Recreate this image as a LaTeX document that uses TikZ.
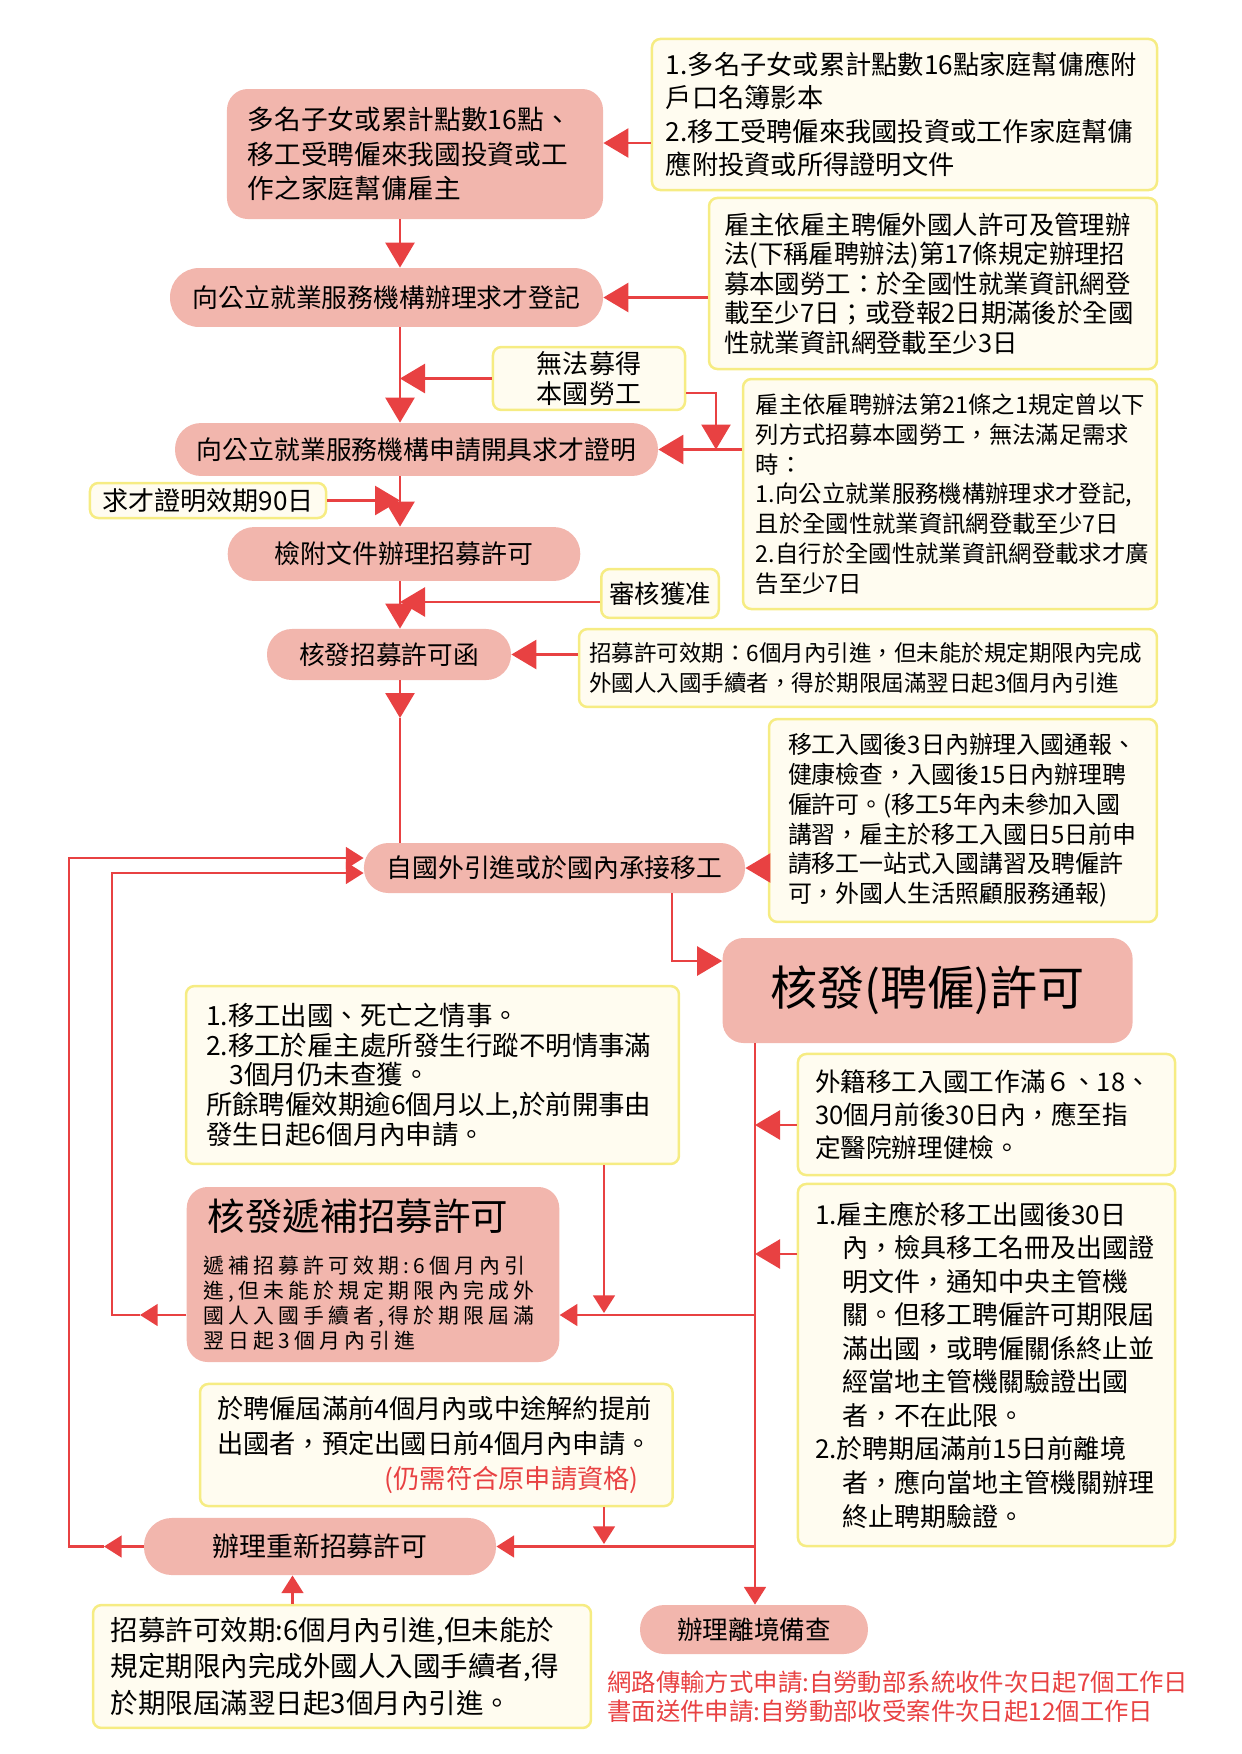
\documentclass[tikz,border=0pt]{standalone}
\usepackage{fontspec}
\setmainfont{Noto Sans CJK TC}
\usepackage{xcolor}
\usetikzlibrary{arrows.meta}
\definecolor{redc}{HTML}{E84142}
\definecolor{pinkc}{HTML}{F2B6AD}
\definecolor{yelc}{HTML}{F6EC83}
\definecolor{notec}{HTML}{FFFCF0}
\newcommand{\fsz}[2]{\fontsize{#1bp}{#2bp}\selectfont}

\begin{document}
\begin{tikzpicture}[x=0.48bp,y=-0.48bp,>={Triangle[length=12bp,width=14bp]},
    box/.style={fill=pinkc,inner sep=0pt,align=center},
    pill/.style={box,rounded corners=#1},
    note/.style={draw=yelc,line width=1.2bp,fill=notec,rounded corners=4bp,inner ysep=0pt,align=left},
    ln/.style={draw=redc,line width=1bp},
    sm/.style={-{Triangle[length=8.5bp,width=10.5bp]}}]
    \useasboundingbox (0,0) rectangle (1241,1754);
    \coordinate (spine) at (400,0);
    \coordinate (trunk) at (755,0);
    \coordinate (drop) at (716,0);

    \node[box,rounded corners=10bp,minimum width=180.5bp,minimum height=62.4bp,text width=160.5bp,inner xsep=10bp,align=left,font=\fsz{12.8}{16.6}] (emp) at (415,154)
        {多名子女或累計點數16點、\\移工受聘僱來我國投資或工\\作之家庭幫傭雇主};
    \node[note,minimum width=242.4bp,minimum height=72.5bp,text width=229bp,inner xsep=6.7bp,font=\fsz{12.6}{16.1}] (docs) at (904.5,114.5)
        {1.多名子女或累計點數16點家庭幫傭應附\\戶口名簿影本\\2.移工受聘僱來我國投資或工作家庭幫傭\\應附投資或所得證明文件};
    \node[pill=13.9bp,minimum width=207.8bp,minimum height=28.3bp,font=\fsz{12.4}{14}] (reg) at (386.5,297.5) {向公立就業服務機構辦理求才登記};
    \node[note,minimum width=215bp,minimum height=82.1bp,text width=200.6bp,inner xsep=7.2bp,font=\fsz{12.2}{14.1}] (law17) at (933,283.5)
        {雇主依雇主聘僱外國人許可及管理辦\\法(下稱雇聘辦法)第17條規定辦理招\\募本國勞工：於全國性就業資訊網登\\載至少7日；或登報2日期滿後於全國\\性就業資訊網登載至少3日};
    \node[note,align=center,minimum width=92.2bp,minimum height=30.2bp,inner xsep=0pt,font=\fsz{12.5}{14.4}] (nolocal) at (589,378.5) {無法募得\\本國勞工};
    \node[pill=12.4bp,minimum width=231.8bp,minimum height=25.4bp,font=\fsz{12.4}{14}] (cert) at (416.5,449.5) {向公立就業服務機構申請開具求才證明};
    \node[note,minimum width=198.7bp,minimum height=110.4bp,text width=186.3bp,inner xsep=6.2bp,font=\fsz{11.2}{14.3}] (law21) at (950,494)
        {雇主依雇聘辦法第21條之1規定曾以下\\列方式招募本國勞工，無法滿足需求\\時：\\1.向公立就業服務機構辦理求才登記,\\且於全國性就業資訊網登載至少7日\\2.自行於全國性就業資訊網登載求才廣\\告至少7日};
    \node[note,align=center,minimum width=113.3bp,minimum height=16.8bp,inner xsep=0pt,font=\fsz{12.5}{14}] (valid90) at (208,500.5) {求才證明效期90日};
    \node[pill=12.7bp,minimum width=169.2bp,minimum height=25.9bp,font=\fsz{12.4}{14}] (apply) at (404,554) {檢附文件辦理招募許可};
    \node[note,align=center,minimum width=56.4bp,minimum height=23.5bp,inner xsep=0pt,font=\fsz{12.2}{14}] (approved) at (660,593.5) {審核獲准};
    \node[pill=12bp,minimum width=117.1bp,minimum height=24.5bp,font=\fsz{12.3}{14}] (letter) at (389,654.5) {核發招募許可函};
    \node[note,minimum width=277.4bp,minimum height=37.4bp,text width=267.8bp,inner xsep=4.8bp,font=\fsz{10.8}{14.4}] (letternote) at (868,668)
        {招募許可效期：6個月內引進，但未能於規定期限內完成\\外國人入國手續者，得於期限屆滿翌日起3個月內引進};
    \node[pill=11.7bp,minimum width=182.9bp,minimum height=24bp,font=\fsz{12.4}{14}] (hire) at (554.5,868) {自國外引進或於國內承接移工};
    \node[note,minimum width=186.2bp,minimum height=97.4bp,text width=168bp,inner xsep=9.1bp,font=\fsz{11.5}{14.3}] (arrival) at (963,820.5)
        {移工入國後3日內辦理入國通報、\\健康檢查，入國後15日內辦理聘\\僱許可。(移工5年內未參加入國\\講習，雇主於移工入國日5日前申\\請移工一站式入國講習及聘僱許\\可，外國人生活照顧服務通報)};
    \node[box,rounded corners=10bp,minimum width=196.8bp,minimum height=50.4bp,font=\fsz{22.6}{26}] (permit) at (927.6,990.5) {核發(聘僱)許可};
    \node[note,minimum width=236.6bp,minimum height=85.4bp,text width=217.4bp,inner xsep=9.6bp,font=\fsz{12.7}{14.2}] (vacancy) at (432.5,1075)
        {1.移工出國、死亡之情事。\\2.移工於雇主處所發生行蹤不明情事滿\\\hspace*{0.9em}3個月仍未查獲。\\所餘聘僱效期逾6個月以上,於前開事由\\發生日起6個月內申請。};
    \node[note,minimum width=181bp,minimum height=58.1bp,text width=164.6bp,inner xsep=8.2bp,font=\fsz{12.3}{15.9}] (checkup) at (986.5,1114.5)
        {外籍移工入國工作滿６、18、\\30個月前後30日內，應至指\\定醫院辦理健檢。};
    \node[note,minimum width=181bp,minimum height=173.8bp,text width=164.6bp,inner xsep=8.2bp,font=\fsz{12.5}{16.1}] (leave) at (986.5,1365)
        {1.雇主應於移工出國後30日\\\hspace*{1.05em}內，檢具移工名冊及出國證\\\hspace*{1.05em}明文件，通知中央主管機\\\hspace*{1.05em}關。但移工聘僱許可期限屆\\\hspace*{1.05em}滿出國，或聘僱關係終止並\\\hspace*{1.05em}經當地主管機關驗證出國\\\hspace*{1.05em}者，不在此限。\\2.於聘期屆滿前15日前離境\\\hspace*{1.05em}者，應向當地主管機關辦理\\\hspace*{1.05em}終止聘期驗證。};
    \node[box,rounded corners=10bp,minimum width=178.8bp,minimum height=84bp,text width=162.4bp,inner xsep=8.2bp,align=left] (refill) at (373,1274.5)
        {{\fsz{18}{22}\hspace*{2bp}核發遞補招募許可\par}\vspace{9bp}{\fsz{10}{12}\addfontfeature{LetterSpace=20}遞補招募許可效期:6個月內引\\進,但未能於規定期限內完成外\\國人入國手續者,得於期限屆滿\\翌日起3個月內引進\par}};
    \node[note,minimum width=226.8bp,minimum height=58.6bp,text width=210.4bp,inner xsep=8.2bp,font=\fsz{12.6}{16.6}] (renewnote) at (436.3,1445)
        {於聘僱屆滿前4個月內或中途解約提前\\出國者，預定出國日前4個月內申請。\\\leavevmode\hfill{\color{redc}(仍需符合原申請資格)}\hspace*{8bp}\mbox{}};
    \node[pill=13.4bp,minimum width=169bp,minimum height=27.4bp,font=\fsz{12.9}{14}] (renew) at (320,1546.5) {辦理重新招募許可};
    \node[note,minimum width=239bp,minimum height=59bp,text width=221.8bp,inner xsep=8.6bp,font=\fsz{13.2}{17.7}] (renewvalid) at (342,1666.5)
        {招募許可效期:6個月內引進,但未能於\\規定期限內完成外國人入國手續者,得\\於期限屆滿翌日起3個月內引進。};
    \node[pill=11.5bp,minimum width=109.4bp,minimum height=23.5bp,font=\fsz{12.3}{14}] (depart) at (754,1629.5) {辦理離境備查};
    \node[anchor=west,inner sep=0pt,align=left,text=redc,font=\fsz{11.7}{14}] (timing) at (607,1696.5)
        {網路傳輸方式申請:自勞動部系統收件次日起7個工作日\\書面送件申請:自勞動部收受案件次日起12個工作日};

    \draw[ln,->] (docs.west |- 0,143) -- (emp.east |- 0,143);
    \draw[ln,->] (emp.south -| spine) -- (reg.north -| spine);
    \draw[ln,->] (law17.west |- reg.east) -- (reg.east);
    \draw[ln,->] (reg.south -| spine) -- (cert.north -| spine);
    \draw[ln,->] (nolocal.west) -- (nolocal.west -| spine);
    \draw[ln,->] (nolocal.east |- 0,393) -| (drop |- cert.east);
    \draw[ln,->] (law21.west |- cert.east) -- (cert.east);
    \draw[ln,->] (valid90.east) -- (valid90.east -| spine);
    \draw[ln,->] (cert.south -| spine) -- (apply.north -| spine);
    \draw[ln,->] (approved.west |- 0,602) -- (spine |- 0,602);
    \draw[ln,->] (apply.south -| spine) -- (letter.north -| spine);
    \draw[ln,->] (letternote.west |- letter.east) -- (letter.east);
    \draw[ln,->] (letter.south -| spine) -- (spine |- 0,718);
    \draw[ln] (spine |- 0,718) -- (hire.north -| spine);
    \draw[ln,->] (arrival.west |- hire.east) -- (hire.east);
    \draw[ln,->] (hire.south -| 672,0) |- (permit.west |- 0,961);
    \draw[ln,sm] (permit.south -| trunk) -- (depart.north -| trunk);
    \draw[ln,->] (checkup.west |- 0,1125) -- (trunk |- 0,1125);
    \draw[ln,->] (leave.west |- 0,1254) -- (trunk |- 0,1254);
    \draw[ln,sm] (trunk |- 0,1315) -- (refill.east |- 0,1315);
    \draw[ln,sm] (vacancy.south -| 604,0) -- (604,1313);
    \draw[ln,sm] (refill.west |- 0,1315) -- (140,1315);
    \draw[ln,sm] (140,1315) -| (112,873) -- (hire.west |- 0,873);
    \draw[ln,sm] (trunk |- renew.east) -- (renew.east);
    \draw[ln,sm] (renewnote.south -| 604,0) -- (604,1544);
    \draw[ln,sm] (renew.west) -- (104,1546.5);
    \draw[ln,sm] (104,1546.5) -| (69,858) -- (hire.west |- 0,858);
    \draw[ln,sm] (renewvalid.north -| 292.5,0) -- (renew.south -| 292.5,0);
\end{tikzpicture}
\end{document}
